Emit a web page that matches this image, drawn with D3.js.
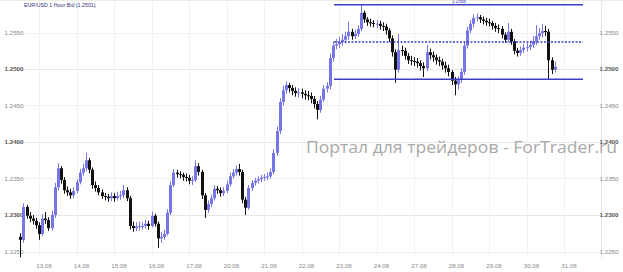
<!DOCTYPE html>
<html>
<head>
<meta charset="utf-8">
<script src="https://cdn.jsdelivr.net/npm/d3@7"></script>
<style>
  body { margin: 0; background: #fff; }
  svg { display: block; font-family: "Liberation Sans", Arial, sans-serif; }
</style>
</head>
<body>
<div id="chart"></div>
<script>
var width = 623;
var height = 272;

// trading days shown on the axis (12.08 is the sunday open)
var dayLabels = ["12.08", "13.08", "14.08", "15.08", "16.08", "17.08", "20.08", "21.08",
                 "22.08", "23.08", "24.08", "27.08", "28.08", "29.08", "30.08", "31.08"];
var priceTicks = [1.2250, 1.2300, 1.2350, 1.2400, 1.2450, 1.2500, 1.2550];
var boldTicks = [1.2300, 1.2400, 1.2500];

// 2 hour candles, first one at 12.08 12:00
var firstHour = 12;
var stepHours = 2;
var firstOpen = 1.2270;
var closes = [
  1.2266, 1.2311, 1.2299, 1.2295, 1.2292, 1.2286, 1.2274, 1.2295, 1.2293, 1.2282,
  1.2300, 1.2338, 1.2364, 1.2348, 1.2334, 1.2331, 1.2327, 1.2333, 1.2345, 1.2358,
  1.2364, 1.2375, 1.2362, 1.2341, 1.2337, 1.2331, 1.2326, 1.2325, 1.2323, 1.2326,
  1.2323, 1.2326, 1.2327, 1.2334, 1.2323, 1.2285, 1.2282, 1.2284, 1.2285, 1.2285,
  1.2288, 1.2285, 1.2299, 1.2288, 1.2268, 1.2270, 1.2274, 1.2303, 1.2341, 1.2358,
  1.2356, 1.2355, 1.2352, 1.2351, 1.2347, 1.2348, 1.2367, 1.2359, 1.2327, 1.2307,
  1.2315, 1.2323, 1.2336, 1.2334, 1.2330, 1.2333, 1.2342, 1.2353, 1.2358, 1.2363,
  1.2359, 1.2321, 1.2310, 1.2337, 1.2344, 1.2347, 1.2349, 1.2351, 1.2352, 1.2353,
  1.2359, 1.2385, 1.2415, 1.2455, 1.2471, 1.2478, 1.2474, 1.2470, 1.2467, 1.2468,
  1.2466, 1.2464, 1.2463, 1.2459, 1.2452, 1.2444, 1.2458, 1.2473, 1.2477, 1.2515,
  1.2532, 1.2534, 1.2537, 1.2540, 1.2545, 1.2551, 1.2545, 1.2548, 1.2555, 1.2577,
  1.2568, 1.2564, 1.2563, 1.2562, 1.2562, 1.2559, 1.2558, 1.2553, 1.2542, 1.2523,
  1.2499, 1.2526, 1.2525, 1.2518, 1.2512, 1.2511, 1.2510, 1.2508, 1.2504, 1.2501,
  1.2523, 1.2519, 1.2516, 1.2512, 1.2510, 1.2505, 1.2501, 1.2496, 1.2484, 1.2479,
  1.2485, 1.2496, 1.2532, 1.2553, 1.2562, 1.2570, 1.2571, 1.2568, 1.2566, 1.2564,
  1.2563, 1.2559, 1.2556, 1.2555, 1.2547, 1.2540, 1.2551, 1.2538, 1.2525, 1.2522,
  1.2526, 1.2529, 1.2530, 1.2533, 1.2538, 1.2545, 1.2549, 1.2552, 1.2551, 1.2512,
  1.2499, 1.2503
];
var highs = [
  1.2275, 1.2316, 1.2314, 1.2304, 1.2300, 1.2296, 1.2290, 1.2301, 1.2304, 1.2297,
  1.2306, 1.2344, 1.2371, 1.2367, 1.2352, 1.2339, 1.2336, 1.2338, 1.2349, 1.2363,
  1.2370, 1.2385, 1.2378, 1.2365, 1.2346, 1.2341, 1.2335, 1.2330, 1.2329, 1.2331,
  1.2330, 1.2332, 1.2333, 1.2341, 1.2338, 1.2326, 1.2291, 1.2290, 1.2291, 1.2290,
  1.2293, 1.2292, 1.2305, 1.2302, 1.2291, 1.2277, 1.2280, 1.2308, 1.2346, 1.2363,
  1.2362, 1.2360, 1.2358, 1.2357, 1.2355, 1.2353, 1.2375, 1.2371, 1.2362, 1.2330,
  1.2320, 1.2328, 1.2341, 1.2340, 1.2338, 1.2338, 1.2347, 1.2358, 1.2363, 1.2368,
  1.2370, 1.2362, 1.2325, 1.2341, 1.2348, 1.2351, 1.2353, 1.2355, 1.2356, 1.2358,
  1.2364, 1.2390, 1.2421, 1.2460, 1.2477, 1.2483, 1.2481, 1.2478, 1.2475, 1.2474,
  1.2473, 1.2471, 1.2470, 1.2468, 1.2463, 1.2456, 1.2463, 1.2478, 1.2482, 1.2521,
  1.2538, 1.2541, 1.2544, 1.2548, 1.2551, 1.2565, 1.2555, 1.2554, 1.2560, 1.2588,
  1.2580, 1.2571, 1.2569, 1.2567, 1.2567, 1.2566, 1.2564, 1.2562, 1.2556, 1.2546,
  1.2527, 1.2548, 1.2532, 1.2529, 1.2522, 1.2518, 1.2516, 1.2515, 1.2512, 1.2509,
  1.2533, 1.2528, 1.2524, 1.2520, 1.2517, 1.2514, 1.2510, 1.2506, 1.2499, 1.2489,
  1.2490, 1.2501, 1.2537, 1.2558, 1.2567, 1.2575, 1.2576, 1.2574, 1.2572, 1.2570,
  1.2569, 1.2566, 1.2563, 1.2561, 1.2559, 1.2550, 1.2563, 1.2555, 1.2541, 1.2529,
  1.2531, 1.2534, 1.2536, 1.2539, 1.2545, 1.2560, 1.2556, 1.2562, 1.2559, 1.2555,
  1.2516, 1.2510
];
var lows = [
  1.2242, 1.2262, 1.2295, 1.2290, 1.2287, 1.2281, 1.2266, 1.2271, 1.2288, 1.2278,
  1.2279, 1.2296, 1.2334, 1.2343, 1.2329, 1.2326, 1.2322, 1.2323, 1.2330, 1.2342,
  1.2354, 1.2360, 1.2357, 1.2336, 1.2332, 1.2327, 1.2322, 1.2320, 1.2318, 1.2319,
  1.2318, 1.2320, 1.2321, 1.2323, 1.2319, 1.2280, 1.2277, 1.2278, 1.2279, 1.2280,
  1.2281, 1.2280, 1.2283, 1.2284, 1.2255, 1.2262, 1.2266, 1.2272, 1.2300, 1.2338,
  1.2351, 1.2350, 1.2347, 1.2346, 1.2342, 1.2341, 1.2345, 1.2354, 1.2322, 1.2296,
  1.2303, 1.2311, 1.2320, 1.2329, 1.2325, 1.2326, 1.2330, 1.2339, 1.2350, 1.2354,
  1.2354, 1.2316, 1.2300, 1.2307, 1.2333, 1.2340, 1.2343, 1.2345, 1.2347, 1.2348,
  1.2350, 1.2356, 1.2381, 1.2411, 1.2450, 1.2466, 1.2468, 1.2464, 1.2462, 1.2461,
  1.2460, 1.2458, 1.2457, 1.2453, 1.2446, 1.2431, 1.2440, 1.2455, 1.2468, 1.2472,
  1.2510, 1.2527, 1.2529, 1.2532, 1.2535, 1.2540, 1.2540, 1.2541, 1.2544, 1.2552,
  1.2563, 1.2559, 1.2558, 1.2557, 1.2556, 1.2554, 1.2552, 1.2547, 1.2537, 1.2517,
  1.2481, 1.2495, 1.2518, 1.2513, 1.2507, 1.2505, 1.2504, 1.2502, 1.2498, 1.2489,
  1.2497, 1.2513, 1.2510, 1.2506, 1.2504, 1.2499, 1.2495, 1.2490, 1.2478, 1.2464,
  1.2472, 1.2481, 1.2492, 1.2528, 1.2549, 1.2557, 1.2565, 1.2563, 1.2561, 1.2559,
  1.2558, 1.2554, 1.2551, 1.2549, 1.2542, 1.2536, 1.2537, 1.2533, 1.2520, 1.2517,
  1.2518, 1.2522, 1.2524, 1.2526, 1.2529, 1.2533, 1.2540, 1.2543, 1.2545, 1.2485,
  1.2493, 1.2495
];

// channel drawn on the chart: top, middle (dotted), bottom
var channelLevels = [1.2588, 1.2537, 1.2486];
var channelStyles = ["solid", "dotted", "solid"];
var channelStartDay = 9; // 23.08
var titleText = "EUR/USD 1 Hour Bid (1.2501)";
var channelLabel = "1.2588";
var watermark = "Портал для трейдеров - ForTrader.ru";

var svg = d3.select("#chart")
    .append("svg")
    .attr("width", width)
    .attr("height", height);

var x = d3.scaleLinear()
    .domain([0, dayLabels.length * 24])
    .range([1.5, 601.5]);

var y = d3.scaleLinear()
    .domain([1.2250, 1.2550])
    .range([251.5, 32.5]);

// horizontal grid
svg.append("g")
    .selectAll("line")
    .data(priceTicks)
    .enter().append("line")
    .attr("x1", 22).attr("x2", 601)
    .attr("y1", function(d) { return Math.round(y(d)) + 0.5; })
    .attr("y2", function(d) { return Math.round(y(d)) + 0.5; })
    .attr("stroke", function(d) { return boldTicks.indexOf(d) >= 0 ? "#e6e6e6" : "#f0f0f0"; });

// vertical grid at day starts
svg.append("g")
    .selectAll("line")
    .data(dayLabels.slice(1))
    .enter().append("line")
    .attr("x1", function(d, i) { return Math.round(x((i + 1) * 24)) + 0.5; })
    .attr("x2", function(d, i) { return Math.round(x((i + 1) * 24)) + 0.5; })
    .attr("y1", 0).attr("y2", 258)
    .attr("stroke", "#f2f2f2");

// frame on the right side and top
svg.append("line").attr("x1", 601.5).attr("x2", 601.5).attr("y1", 0).attr("y2", 258).attr("stroke", "#e8e8e8");
svg.append("line").attr("x1", 0).attr("x2", 623).attr("y1", 0.5).attr("y2", 0.5).attr("stroke", "#efece4");

// price labels left and right
function priceLabels(cx) {
  svg.append("g")
    .selectAll("text")
    .data(priceTicks)
    .enter().append("text")
    .attr("x", cx)
    .attr("y", function(d) { return y(d) + 2; })
    .attr("text-anchor", "middle")
    .attr("font-size", 6.2)
    .attr("font-weight", function(d) { return boldTicks.indexOf(d) >= 0 ? "bold" : "normal"; })
    .attr("fill", function(d) { return boldTicks.indexOf(d) >= 0 ? "#555" : "#8a8a8a"; })
    .text(function(d) { return d.toFixed(4); });
}
priceLabels(14);
priceLabels(609);

// day labels
svg.append("g")
    .selectAll("text")
    .data(dayLabels.slice(1))
    .enter().append("text")
    .attr("x", function(d, i) { return x((i + 1) * 24) + 5; })
    .attr("y", 268)
    .attr("text-anchor", "middle")
    .attr("font-size", 6.2)
    .attr("fill", "#8a8a8a")
    .text(function(d) { return d; });

// watermark
svg.append("text")
    .attr("x", 306)
    .attr("y", 153)
    .attr("font-family", "'Open Sans', 'DejaVu Sans', sans-serif")
    .attr("font-size", 17)
    .attr("fill", "#a9a9a9")
    .attr("textLength", 311)
    .attr("lengthAdjust", "spacingAndGlyphs")
    .text(watermark);

// candles
var candles = closes.map(function(c, i) {
  return {
    t: firstHour + i * stepHours,
    o: i === 0 ? firstOpen : closes[i - 1],
    h: highs[i], l: lows[i], c: c
  };
});

var upColor = "#7676e6";
var downColor = "#111";

var g = svg.append("g");
g.selectAll("line.wick")
    .data(candles)
    .enter().append("line")
    .attr("class", "wick")
    .attr("x1", function(d) { return Math.round(x(d.t)) + 0.5; })
    .attr("x2", function(d) { return Math.round(x(d.t)) + 0.5; })
    .attr("y1", function(d) { return y(d.h); })
    .attr("y2", function(d) { return y(d.l); })
    .attr("stroke", function(d) { return d.c >= d.o ? upColor : downColor; })
    .attr("stroke-width", 1);

g.selectAll("rect.body")
    .data(candles)
    .enter().append("rect")
    .attr("class", "body")
    .attr("x", function(d) { return Math.round(x(d.t)) - 1; })
    .attr("width", 3)
    .attr("y", function(d) { return y(Math.max(d.o, d.c)); })
    .attr("height", function(d) { return Math.max(1, Math.abs(y(d.o) - y(d.c))); })
    .attr("fill", function(d) { return d.c >= d.o ? upColor : downColor; });

// channel lines
var cx1 = x(channelStartDay * 24) - 5;
var cx2 = 583;
svg.append("g")
    .selectAll("line")
    .data(channelLevels)
    .enter().append("line")
    .attr("x1", cx1).attr("x2", cx2)
    .attr("y1", function(d) { return y(d); })
    .attr("y2", function(d) { return y(d); })
    .attr("stroke", "#3c40c4")
    .attr("stroke-width", function(d, i) { return channelStyles[i] === "dotted" ? 1.3 : 1.6; })
    .attr("stroke-dasharray", function(d, i) { return channelStyles[i] === "dotted" ? "2,1.5" : null; });

svg.append("text")
    .attr("x", 459)
    .attr("y", y(channelLevels[0]) - 1.5)
    .attr("text-anchor", "middle")
    .attr("font-size", 4.5)
    .attr("fill", "#3c40c4")
    .text(channelLabel);

// title
svg.append("text")
    .attr("x", 24)
    .attr("y", 7)
    .attr("font-size", 5.3)
    .attr("fill", "#33337a")
    .text(titleText);
</script>
</body>
</html>
